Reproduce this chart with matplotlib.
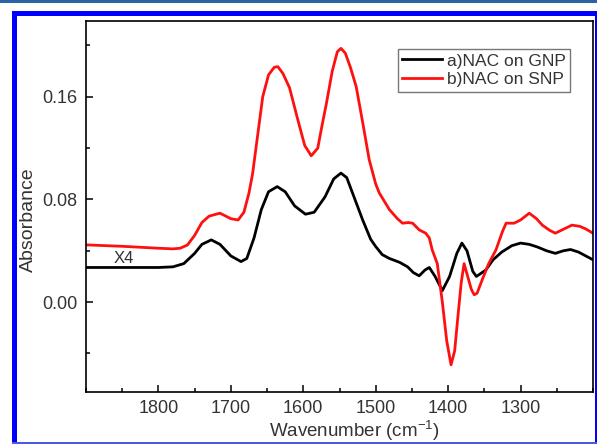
import numpy as np
import matplotlib
matplotlib.use('Agg')
import matplotlib.pyplot as plt
from matplotlib.patches import Rectangle
from matplotlib.ticker import MultipleLocator

plt.rcParams['font.family'] = ['Liberation Sans', 'DejaVu Sans']
plt.rcParams['mathtext.fontset'] = 'custom'
plt.rcParams['mathtext.rm'] = 'Liberation Sans'
plt.rcParams['mathtext.it'] = 'Liberation Sans'

# a) NAC on GNP  (x4)
wn_a = [1900, 1850, 1800, 1780, 1765, 1750, 1740, 1727, 1715, 1700, 1686, 1678,
        1668, 1658, 1648, 1636, 1625, 1612, 1597, 1585, 1570, 1558, 1548, 1540,
        1532, 1518, 1507, 1500, 1491, 1481, 1467, 1456, 1448, 1440, 1432, 1426,
        1418, 1408, 1398, 1388, 1381, 1374, 1366, 1361, 1348, 1338, 1326, 1312,
        1300, 1288, 1277, 1264, 1252, 1241, 1231, 1220, 1210, 1200]
abs_a = [0.027, 0.027, 0.027, 0.0275, 0.030, 0.038, 0.045, 0.0485, 0.045, 0.036,
         0.0316, 0.034, 0.050, 0.072, 0.086, 0.090, 0.086, 0.075, 0.0685, 0.070,
         0.082, 0.096, 0.1005, 0.097, 0.085, 0.064, 0.049, 0.0433, 0.037, 0.034,
         0.031, 0.0275, 0.023, 0.0205, 0.025, 0.027, 0.020, 0.009, 0.020, 0.038,
         0.046, 0.040, 0.024, 0.020, 0.025, 0.033, 0.039, 0.044, 0.046, 0.045,
         0.043, 0.040, 0.038, 0.040, 0.041, 0.039, 0.036, 0.033]

# b) NAC on SNP
wn_b = [1900, 1850, 1800, 1780, 1770, 1760, 1750, 1740, 1730, 1715, 1700, 1690,
        1682, 1675, 1670, 1663, 1656, 1648, 1640, 1635, 1628, 1619, 1608, 1598,
        1589, 1580, 1574, 1568, 1560, 1553, 1548, 1542, 1535, 1527, 1518, 1509,
        1500, 1495, 1481, 1470, 1463, 1455, 1449, 1440, 1431, 1426, 1422, 1415,
        1408, 1402, 1396, 1391, 1387, 1382, 1378, 1373, 1368, 1364, 1360, 1353,
        1344, 1334, 1325, 1320, 1309, 1300, 1288, 1278, 1270, 1260, 1252, 1240,
        1229, 1218, 1210, 1200]
abs_b = [0.0446, 0.0435, 0.042, 0.0415, 0.042, 0.0445, 0.052, 0.062, 0.067, 0.0693,
         0.065, 0.064, 0.070, 0.085, 0.100, 0.130, 0.160, 0.177, 0.183, 0.1834,
         0.178, 0.167, 0.143, 0.122, 0.114, 0.120, 0.138, 0.155, 0.180, 0.195,
         0.1977, 0.194, 0.183, 0.168, 0.140, 0.111, 0.092, 0.085, 0.072, 0.065,
         0.0615, 0.062, 0.0615, 0.0563, 0.0537, 0.050, 0.0407, 0.030, 0.000, -0.030,
         -0.0488, -0.038, -0.014, 0.015, 0.030, 0.020, 0.010, 0.0057, 0.007, 0.0174,
         0.030, 0.0407, 0.055, 0.0615, 0.0615, 0.064, 0.0693, 0.065, 0.060, 0.056,
         0.0537, 0.057, 0.060, 0.059, 0.057, 0.0537]

labels = ['a)NAC on GNP', 'b)NAC on SNP']

fig = plt.figure(figsize=(5.97, 4.44), dpi=100)
ax = fig.add_axes([86/597, 1-392/444, 507/597, 371/444])

ax.plot(wn_a, abs_a, color='black', lw=2.0, label=labels[0])
ax.plot(wn_b, abs_b, color='#ff1010', lw=2.0, label=labels[1])

ax.set_xlim(1900, 1200)
ax.set_ylim(-0.070, 0.219)
ax.xaxis.set_major_locator(MultipleLocator(100))
ax.xaxis.set_minor_locator(MultipleLocator(50))
ax.yaxis.set_major_locator(MultipleLocator(0.08))
ax.yaxis.set_minor_locator(MultipleLocator(0.04))
ax.yaxis.set_major_formatter(plt.FuncFormatter(lambda v, p: '%.2f' % v))
ax.set_xticks([1800, 1700, 1600, 1500, 1400, 1300])

ax.tick_params(which='both', direction='in', top=False, right=False,
               labelsize=13, labelcolor='#333333', width=1.1)
ax.tick_params(which='major', length=5, pad=6)
ax.tick_params(which='minor', length=3)
for s in ax.spines.values():
    s.set_linewidth(1.2)

ax.set_xlabel('Wavenumber (cm$^{-1}$)', fontsize=13.5, color='#333333')
ax.set_ylabel('Absorbance', fontsize=14, color='#333333')
ax.xaxis.set_label_coords(0.53, -0.072)
ax.yaxis.set_label_coords(-0.097, 0.464)

ax.text(1862, 0.0337, 'X4', fontsize=12, color='#333333', va='center')

leg = ax.legend(loc='upper right', bbox_to_anchor=(0.9546, 0.9245), fontsize=12.5,
                frameon=True, fancybox=False, handlelength=2.3,
                handletextpad=0.25, borderpad=0.25, labelspacing=0.22,
                borderaxespad=0)
leg.get_frame().set_edgecolor('#555555')
leg.get_frame().set_linewidth(1.0)
for t in leg.get_texts():
    t.set_color('#333333')

# page decoration around the figure
W, H = 597.0, 444.0
def rect(x0, y0, x1, y1, c):
    fig.add_artist(Rectangle((x0/W, 1-y1/H), (x1-x0)/W, (y1-y0)/H,
                             transform=fig.transFigure, color=c, lw=0))

rect(0, 0, 597, 3, '#2a64a4')
rect(12, 11, 597, 16, '#0000ff')
rect(12, 11, 17, 444, '#0000ff')
rect(594.5, 11, 597, 444, '#0000ff')
rect(12, 442, 597, 444, '#4a5ae8')

fig.savefig('out.png', dpi=100)
